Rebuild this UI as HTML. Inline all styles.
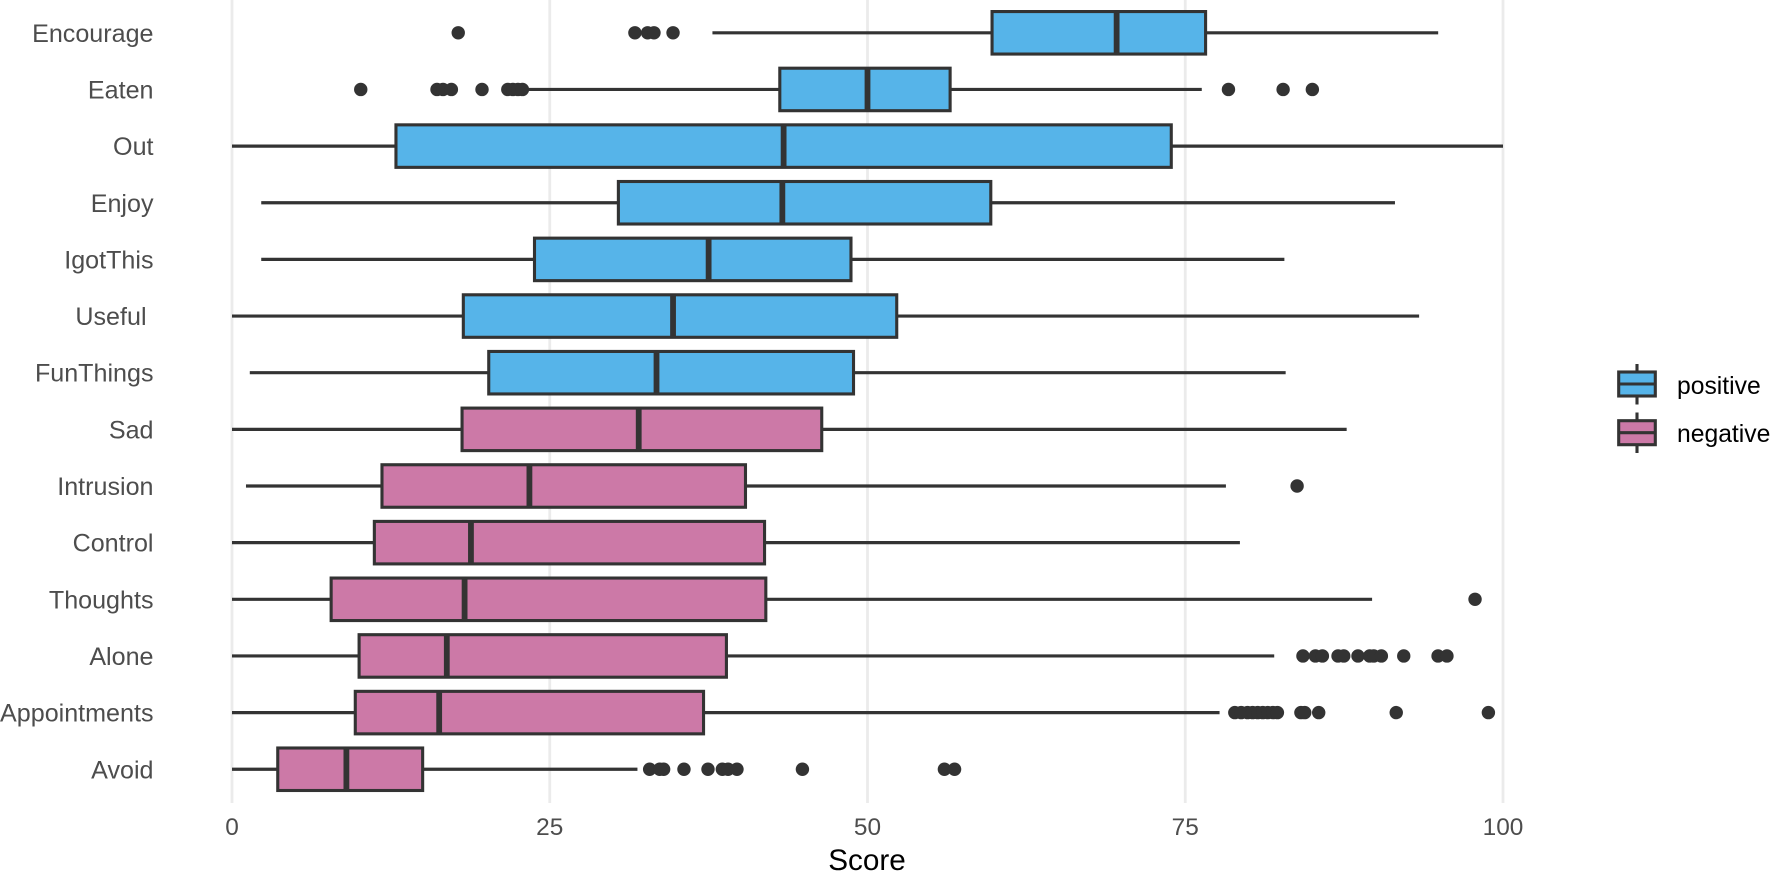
<!DOCTYPE html>
<html lang="en">
<head>
<meta charset="utf-8">
<title>Score by item</title>
<style>
html,body{margin:0;padding:0;background:#fff;width:1773px;height:878px;overflow:hidden}
svg{display:block;font-family:"Liberation Sans",Arial,sans-serif}
</style>
</head>
<body>
<svg id="chart" xmlns="http://www.w3.org/2000/svg" width="1773" height="878" viewBox="0 0 1773 878">
  <rect x="0" y="0" width="1773" height="878" fill="#ffffff"></rect>
  <g id="grid"></g>
  <g id="boxes"></g>
  <g id="ylabels"></g>
  <g id="xlabels"></g>
  <text x="867" y="870" font-size="29.7" fill="#000" text-anchor="middle">Score</text>
  <g>
    <g>
      <line x1="1637" x2="1637" y1="364" y2="404.5" stroke="#333" stroke-width="3.1"></line>
      <rect x="1618.7" y="372" width="36.6" height="24" fill="#56B4E9" stroke="#333" stroke-width="3.1"></rect>
      <line x1="1618.7" x2="1655.3" y1="384" y2="384" stroke="#333" stroke-width="3.1"></line>
      <text x="1677" y="394" font-size="24.7" fill="#000">positive</text>
    </g>
    <g>
      <line x1="1637" x2="1637" y1="412.5" y2="453" stroke="#333" stroke-width="3.1"></line>
      <rect x="1618.7" y="420.7" width="36.6" height="24" fill="#CC79A7" stroke="#333" stroke-width="3.1"></rect>
      <line x1="1618.7" x2="1655.3" y1="432.7" y2="432.7" stroke="#333" stroke-width="3.1"></line>
      <text x="1677" y="442" font-size="24.7" fill="#000">negative</text>
    </g>
  </g>
</svg>
<script>
const categories = ["Encourage","Eaten","Out","Enjoy","IgotThis","Useful ","FunThings","Sad","Intrusion","Control","Thoughts","Alone","Appointments","Avoid"];
const sentiment = ["positive","positive","positive","positive","positive","positive","positive","negative","negative","negative","negative","negative","negative","negative"];
const whiskerLow = [37.8,23.0,0,2.3,2.3,0,1.4,0,1.1,0,0,0,0,0];
const q1 = [59.8,43.1,12.9,30.4,23.8,18.2,20.2,18.1,11.8,11.2,7.8,10.0,9.7,3.6];
const median = [69.6,50.0,43.4,43.3,37.5,34.7,33.4,32.0,23.4,18.8,18.3,16.9,16.3,9.0];
const q3 = [76.6,56.5,73.9,59.7,48.7,52.3,48.9,46.4,40.4,41.9,42.0,38.9,37.1,15.0];
const whiskerHigh = [94.9,76.3,100,91.5,82.8,93.4,82.9,87.7,78.2,79.3,89.7,82.0,77.7,31.9];
const outliers = [
  [17.8,31.7,32.7,33.2,34.7],
  [10.13,16.13,16.6,17.26,19.67,21.7,22.1,22.5,22.85,78.4,82.7,85.0],
  [],[],[],[],[],[],
  [83.8],
  [],
  [97.8],
  [84.26,85.24,85.79,87.02,87.47,88.59,89.51,89.83,90.43,92.19,94.89,95.59],
  [78.9,79.4,79.9,80.3,80.7,81.1,81.5,81.9,82.25,84.1,84.4,85.5,91.6,98.85],
  [32.86,33.65,33.96,35.56,37.45,38.58,39.03,39.73,44.88,56.05,56.85]
];
const xTicks = [0,25,50,75,100];

const SVGNS = "http://www.w3.org/2000/svg";
const X0 = 232.0, X100 = 1503.0, Y0 = 32.8, ROW = 56.65, BOXH = 42.5, GRID_BOTTOM = 803;
const colours = {positive:"#56B4E9", negative:"#CC79A7"};
function xScale(v){ return X0 + (X100 - X0) * v / 100; }
function yScale(i){ return Y0 + ROW * i; }
function make(tag, attrs, parent){
  const el = document.createElementNS(SVGNS, tag);
  for (const k in attrs) el.setAttribute(k, attrs[k]);
  parent.appendChild(el);
  return el;
}
function slug(s){ return s.trim().toLowerCase(); }

const grid = document.getElementById("grid");
const xlabels = document.getElementById("xlabels");
xTicks.forEach(function(t){
  const g = make("line", {x1:xScale(t), x2:xScale(t), y1:0, y2:GRID_BOTTOM, stroke:"#ebebeb", "stroke-width":2.8}, grid);
  
  
  const l = make("text", {x:xScale(t), y:835, "font-size":24.4, fill:"#4d4d4d", "text-anchor":"middle"}, xlabels);
  l.textContent = String(t);
  
  
});

const boxes = document.getElementById("boxes");
const ylabels = document.getElementById("ylabels");
categories.forEach(function(cat, i){
  const y = yScale(i), name = slug(cat);

  const lab = make("text", {x:153.5, y:y + 9, "font-size":25.1, fill:"#4d4d4d", "text-anchor":"end", style:"white-space:pre"}, ylabels);
  lab.textContent = cat;
  
  

  const group = make("g", {}, boxes);
  
  

  const wl = make("line", {x1:xScale(whiskerLow[i]), x2:xScale(q1[i]), y1:y, y2:y, stroke:"#333", "stroke-width":3.2}, group);
  
  

  const wh = make("line", {x1:xScale(q3[i]), x2:xScale(whiskerHigh[i]), y1:y, y2:y, stroke:"#333", "stroke-width":3.2}, group);
  
  

  const box = make("rect", {x:xScale(q1[i]), y:y - BOXH / 2, width:xScale(q3[i]) - xScale(q1[i]), height:BOXH, fill:colours[sentiment[i]], stroke:"#333", "stroke-width":3.1}, group);
  
  

  const med = make("line", {x1:xScale(median[i]), x2:xScale(median[i]), y1:y - BOXH / 2, y2:y + BOXH / 2, stroke:"#333", "stroke-width":5.8}, group);
  
  

  outliers[i].forEach(function(v, j){
    const c = make("circle", {cx:xScale(v), cy:y, r:6.7, fill:"#333"}, group);
    
    
  });
});
</script>
</body>
</html>
